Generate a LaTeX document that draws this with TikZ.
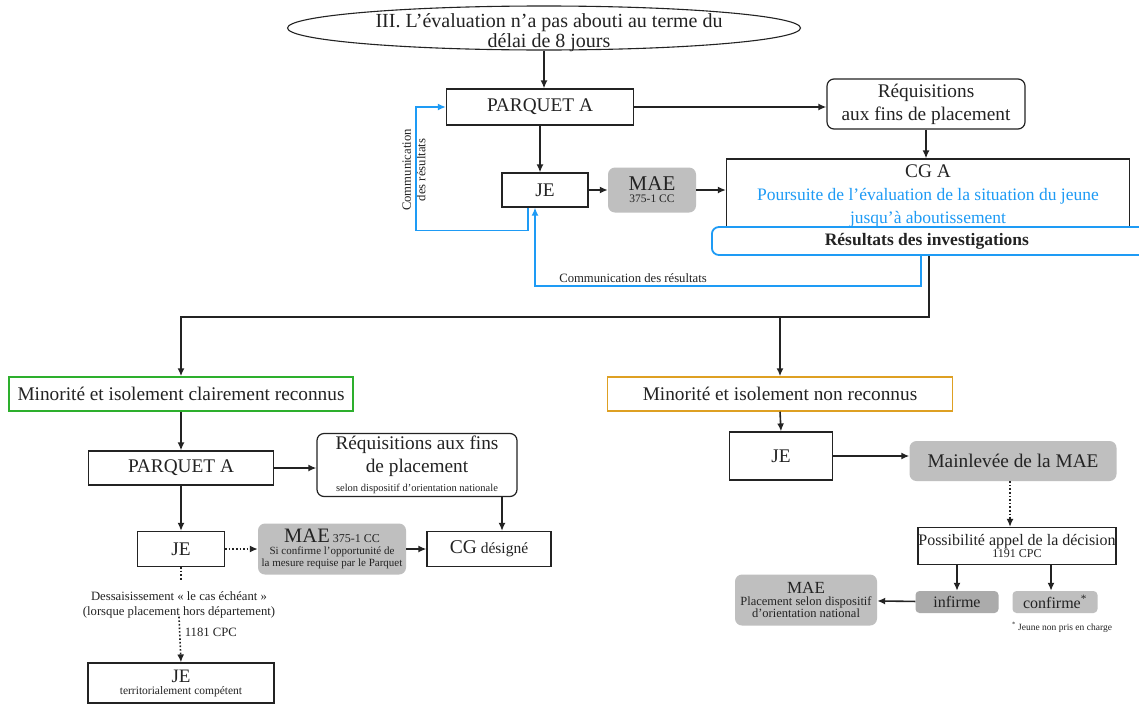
\documentclass[tikz,border=0pt]{standalone}
\usepackage{fontspec}
\setmainfont{Liberation Serif}
\usetikzlibrary{arrows.meta,shapes.geometric}

\definecolor{resblue}{RGB}{30,155,245}
\definecolor{okgreen}{RGB}{45,175,45}
\definecolor{nogold}{RGB}{222,160,35}
\definecolor{ink}{RGB}{35,35,35}

\begin{document}
\begin{tikzpicture}[x=1pt,y=-1pt,text=ink,
  box/.style={draw=ink,line width=1.2pt,fill=white,inner sep=0pt,align=center},
  rbox/.style={box,rounded corners=7pt},
  gbox/.style={fill=black!25,rounded corners=7pt,inner sep=0pt,align=center},
  big/.style={font=\fontsize{19.3}{23}\selectfont},
  mid/.style={font=\fontsize{16}{18}\selectfont},
  small/.style={font=\fontsize{12.7}{14.5}\selectfont},
  link/.style={draw=ink,line width=1.6pt,-{Latex[length=8pt,width=7pt]}},
  comm/.style={link,draw=resblue,resblue},
  dotlink/.style={link,dotted}]
  \useasboundingbox[fill=white] (0,0) rectangle (1139,707);

  \node[ellipse,draw=ink,line width=1.1pt,minimum width=513,minimum height=44,inner sep=0pt] (eval) at (544,28) {};
  \node[font=\fontsize{20}{20}\selectfont,align=center] (evaltxt) at (549,33) {III. L’évaluation n’a pas abouti au terme du\\délai de 8 jours};
  \node[box,big,minimum width=187,minimum height=36] (pqa) at (540,107) {PARQUET A};
  \node[rbox,big,minimum width=198,minimum height=50] (req) at (926,104) {Réquisitions\\aux fins de placement};
  \node[box,big,minimum width=403,minimum height=74] (cga) at (928,196)
    {CG A\\{\color{resblue}\fontsize{17.5}{20}\selectfont Poursuite de l’évaluation de la situation du jeune}\\{\color{resblue}\fontsize{17.5}{20}\selectfont jusqu’à aboutissement}};
  \node[rbox,draw=resblue,line width=1.8pt,font=\bfseries\fontsize{17.5}{19}\selectfont,minimum width=440,minimum height=28,anchor=west] (res) at (711,241) {\hspace*{-10pt}Résultats des investigations};
  \node[box,big,minimum width=86,minimum height=34] (je1) at (545,190) {JE};
  \node[gbox,minimum width=88,minimum height=45] (mae1) at (652,190) {{\fontsize{21}{18}\selectfont MAE}\\{\fontsize{11.5}{13}\selectfont 375-1 CC}};
  \node[rotate=90,small,align=center] (commlbl) at (414,170) {Communication\\des résultats};
  \node[small] (commlbl2) at (633,278) {Communication des résultats};

  \draw[link] (eval.south) -- (eval.south |- pqa.north);
  \draw[link] (pqa.east) -- (pqa.east -| req.west);
  \draw[link] (req.south) -- (req.south |- cga.north);
  \draw[link] (pqa.south) -- (pqa.south |- je1.north);
  \draw[link] (je1) -- (mae1);
  \draw[link] (mae1.east) -- (mae1.east -| cga.west);
  \draw[comm] ([xshift=-17pt]je1.south) -- ++(0,23) -| ([xshift=-30pt]pqa.west) -- (pqa.west);
  \draw[comm] ([xshift=-11pt]res.south) -- ++(0,30) -| ([xshift=-10pt]je1.south);

  \node[box,draw=okgreen,line width=1.5pt,big,minimum width=344,minimum height=34] (known) at (181,394) {Minorité et isolement clairement reconnus};
  \node[box,draw=nogold,line width=1.5pt,big,minimum width=345,minimum height=34] (unknown) at (780,394) {Minorité et isolement non reconnus};
  \draw[link] ([xshift=-3pt]res.south) -- ++(0,61) coordinate (fork) -| (known.north);
  \draw[link] (fork -| unknown.north) -- (unknown.north);

  \node[box,big,minimum width=185,minimum height=34] (pqb) at (181,468) {PARQUET A};
  \node[rbox,big,minimum width=200,minimum height=63] (reqb) at (417,465)
    {Réquisitions aux fins\\de placement\\[-4pt]{\fontsize{10.5}{11}\selectfont selon dispositif d’orientation nationale}};
  \node[box,big,minimum width=87,minimum height=35] (jeb) at (181,549) {JE};
  \node[gbox,minimum width=148,minimum height=51] (maeb) at (332,549)
    {{\fontsize{20.5}{18}\selectfont MAE}{\fontsize{12}{13}\selectfont\ 375-1 CC}\\{\fontsize{11}{12}\selectfont Si confirme l’opportunité de}\\{\fontsize{11}{12}\selectfont la mesure requise par le Parquet}};
  \node[box,minimum width=124,minimum height=35] (cgd) at (489,549) {{\fontsize{19.5}{20}\selectfont CG}{\fontsize{15.5}{16}\selectfont\ désigné}};
  \node[font=\fontsize{12.7}{15.5}\selectfont,align=center,inner sep=2pt] (dess) at (179,605) {Dessaisissement « le cas échéant »\\(lorsque placement hors département)};
  \node[box,minimum width=186,minimum height=40] (jec) at (181,683) {{\fontsize{19}{19}\selectfont JE}\\{\fontsize{11.5}{13}\selectfont territorialement compétent}};

  \draw[link] (known.south) -- (pqb.north);
  \draw[link] (pqb.east) -- (pqb.east -| reqb.west);
  \draw[link] (pqb.south) -- (jeb.north);
  \draw[dotlink] (jeb) -- (maeb);
  \draw[link] (maeb) -- (cgd);
  \draw[link] ([xshift=13pt]cgd.north |- reqb.south) -- ([xshift=13pt]cgd.north);
  \draw[draw=ink,line width=1.6pt,dotted] (jeb.south) -- ++(0,14);
  \draw[dotlink] ([yshift=4pt]dess.south) -- (jec.north) node[pos=.35,right=1pt,small] {1181 CPC};

  \node[box,big,minimum width=103,minimum height=48] (jed) at (781,456) {JE};
  \node[gbox,big,minimum width=207,minimum height=40] (mainl) at (1013,461) {Mainlevée de la MAE};
  \node[box,minimum width=198,minimum height=37] (poss) at (1017,546)
    {{\fontsize{16}{17}\selectfont Possibilité appel de la décision}\\{\fontsize{12}{13}\selectfont 1191 CPC}};
  \node[gbox,fill=black!33,rounded corners=4pt,mid,minimum width=83,minimum height=22] (infirme) at (957,602) {infirme};
  \node[gbox,rounded corners=4pt,mid,minimum width=85,minimum height=22] (confirme) at (1055,602) {confirme\textsuperscript{*}};
  \node[gbox,minimum width=142,minimum height=51] (maec) at (806,600)
    {{\fontsize{17}{17}\selectfont MAE}\\{\fontsize{12.5}{14}\selectfont Placement selon dispositif}\\{\fontsize{12.5}{14}\selectfont d’orientation national}};
  \node[font=\fontsize{9.5}{10}\selectfont] (footn) at (1062,627) {\textsuperscript{*} Jeune non pris en charge};

  \draw[link] (unknown.south) -- (jed.north);
  \draw[link] (jed.east) -- (jed.east -| mainl.west);
  \draw[dotlink] ([xshift=-3pt]mainl.south) -- ([xshift=-3pt]mainl.south |- poss.north);
  \draw[link] (infirme.north |- poss.south) -- (infirme.north);
  \draw[link] ([xshift=-4pt]confirme.north |- poss.south) -- ([xshift=-4pt]confirme.north);
  \draw[link] (infirme) -- (maec);
\end{tikzpicture}
\end{document}
